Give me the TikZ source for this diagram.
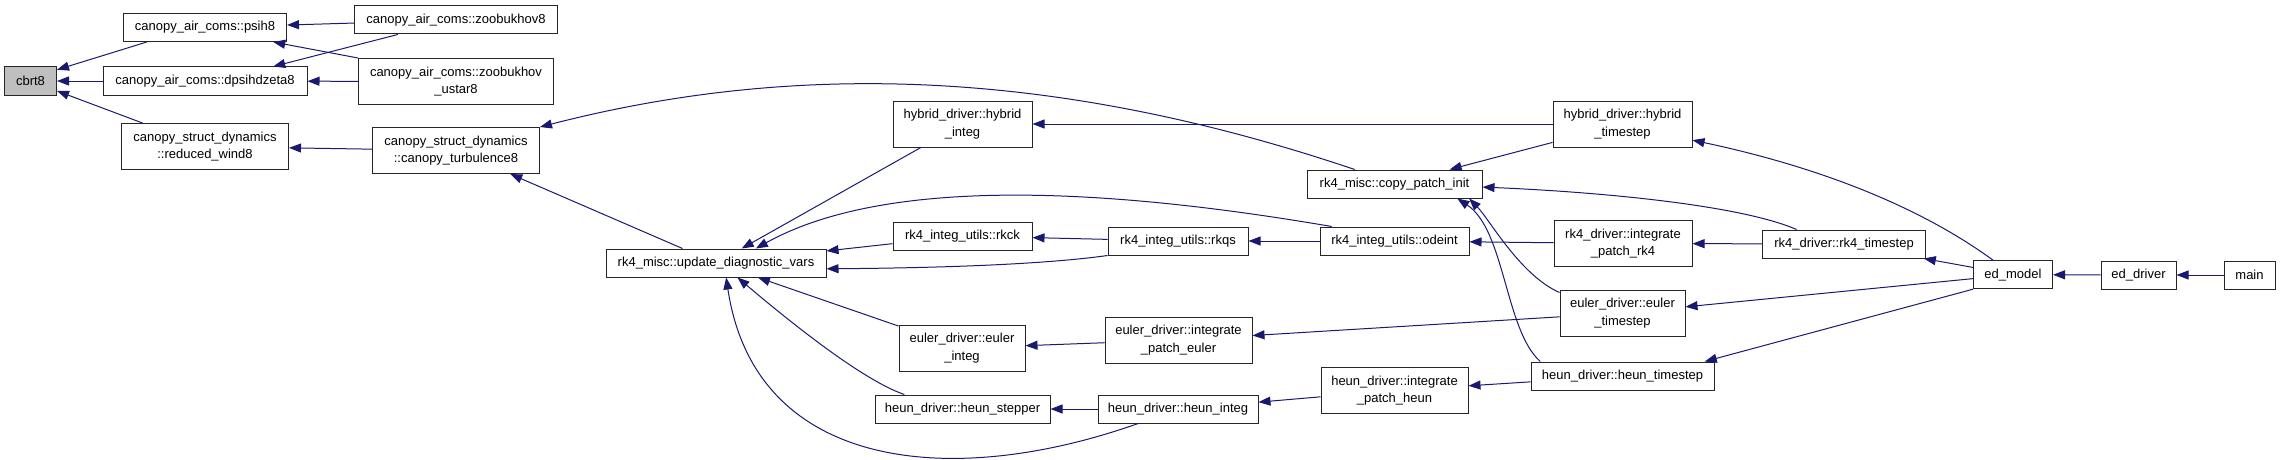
\documentclass[tikz,border=0pt]{standalone}
\usepackage{fontspec}
\setmainfont{Liberation Sans}
\usepackage{xcolor}
\usepackage{tikz}
\usetikzlibrary{arrows.meta,positioning}
\definecolor{edgeblue}{HTML}{191970}

\begin{document}
\begin{tikzpicture}[
  x=1pt, y=-1pt,
  fn/.style={draw=black!85, line width=1pt, fill=white, inner sep=0pt,
    minimum height=28pt, font=\fontsize{13}{17.5}\selectfont},
  tall/.style={minimum height=46pt, align=center},
  w/.style={minimum width=#1pt},
  arr/.style={-{Triangle[length=12pt,width=9pt]}, draw=edgeblue,
    line width=1pt},
]
\useasboundingbox (0,0) rectangle (2280,460);

\node[fn, w=52, fill=black!25] (cbrt) at (30.5,81) {cbrt8};
\node[fn, w=163] (psih) at (205,27.5) {canopy\_air\_coms::psih8};
\node[fn, w=204] (dpsi) at (205,81) {canopy\_air\_coms::dpsihdzeta8};
\node[fn, tall, w=167] (redw) at (205,146.5) {canopy\_struct\_dynamics\\::reduced\_wind8};
\node[fn, w=203] (zoob) at (456,20) {canopy\_air\_coms::zoobukhov8};
\node[fn, tall, w=195] (zust) at (456,81.5) {canopy\_air\_coms::zoobukhov\\\_ustar8};
\node[fn, tall, w=167] (cturb) at (456,150.5) {canopy\_struct\_dynamics\\::canopy\_turbulence8};
\node[fn, w=220] (udv) at (716,263) {rk4\_misc::update\_diagnostic\_vars};
\node[fn, tall, w=139] (hyint) at (962.5,124) {hybrid\_driver::hybrid\\\_integ};
\node[fn, w=139] (rkck) at (962.5,236) {rk4\_integ\_utils::rkck};
\node[fn, tall, w=126] (euint) at (962,348) {euler\_driver::euler\\\_integ};
\node[fn, w=175] (hnstep) at (962.5,409) {heun\_driver::heun\_stepper};
\node[fn, w=140] (rkqs) at (1178,241) {rk4\_integ\_utils::rkqs};
\node[fn, tall, w=147] (ipe) at (1178.5,340) {euler\_driver::integrate\\\_patch\_euler};
\node[fn, w=160] (hnint) at (1178,409) {heun\_driver::heun\_integ};
\node[fn, w=175] (copy) at (1394.5,184) {rk4\_misc::copy\_patch\_init};
\node[fn, w=149] (odeint) at (1394.5,241) {rk4\_integ\_utils::odeint};
\node[fn, tall, w=147] (iph) at (1394.5,390.5) {heun\_driver::integrate\\\_patch\_heun};
\node[fn, tall, w=139] (hyts) at (1622.5,124) {hybrid\_driver::hybrid\\\_timestep};
\node[fn, tall, w=138] (iprk) at (1623,243.5) {rk4\_driver::integrate\\\_patch\_rk4};
\node[fn, tall, w=125] (euts) at (1622.5,313) {euler\_driver::euler\\\_timestep};
\node[fn, w=183] (hnts) at (1622.5,376) {heun\_driver::heun\_timestep};
\node[fn, w=163] (rkts) at (1844,244) {rk4\_driver::rk4\_timestep};
\node[fn, w=79] (edm) at (2013,274.7) {ed\_model};
\node[fn, w=75] (edd) at (2138.5,275) {ed\_driver};
\node[fn, w=51] (main) at (2249.5,275) {main};

\draw[arr] (psih.194) -- (cbrt.23);
\draw[arr] (dpsi) -- (cbrt);
\draw[arr] (redw) -- (cbrt);
\draw[arr] (zoob) -- (psih);
\draw[arr] (zoob.194) -- (dpsi.12);
\draw[arr] (zust.north west) -- (psih.-12);
\draw[arr] (zust) -- (dpsi);
\draw[arr] (cturb) -- (redw);
\draw[arr] (copy.160) .. controls (1060,70) and (800,60) .. (cturb.north east);
\draw[arr] (udv) -- (cturb);
\draw[arr] (hyint) -- (udv);
\draw[arr] (odeint.167) .. controls (1060,180) and (870,185) .. (udv.20);
\draw[arr] (rkck) -- (udv);
\draw[arr] (rkqs.south west) .. controls (1040,265) and (930,268) .. (udv.-3);
\draw[arr] (euint) -- (udv);
\draw[arr] (hnstep.166) .. controls (871,383) and (815,343) .. (udv.-34);
\draw[arr] (hnint.200) .. controls (950,490) and (755,470) .. (udv.-55);
\draw[arr] (rkqs) -- (rkck);
\draw[arr] (odeint) -- (rkqs);
\draw[arr] (iprk) -- (odeint);
\draw[arr] (hyts) -- (hyint);
\draw[arr] (hyts) -- (copy);
\draw[arr] (rkts.163) .. controls (1740,205) and (1600,192) .. (copy.-2);
\draw[arr] (euts.162) .. controls (1520,275) and (1490,220) .. (copy.-11);
\draw[arr] (hnts.170) .. controls (1505,330) and (1505,230) .. (copy.-13);
\draw[arr] (euts) -- (ipe);
\draw[arr] (ipe) -- (euint);
\draw[arr] (hnts) -- (iph);
\draw[arr] (iph) -- (hnint);
\draw[arr] (hnint) -- (hnstep);
\draw[arr] (rkts) -- (iprk);
\draw[arr] (edm.144) .. controls (1919.7,206.6) and (1819,167) .. (hyts.-13);
\draw[arr] (edm) -- (rkts);
\draw[arr] (edm) -- (euts);
\draw[arr] (edm.south west) -- (hnts.10);
\draw[arr] (edd) -- (edm);
\draw[arr] (main) -- (edd);
\end{tikzpicture}
\end{document}
